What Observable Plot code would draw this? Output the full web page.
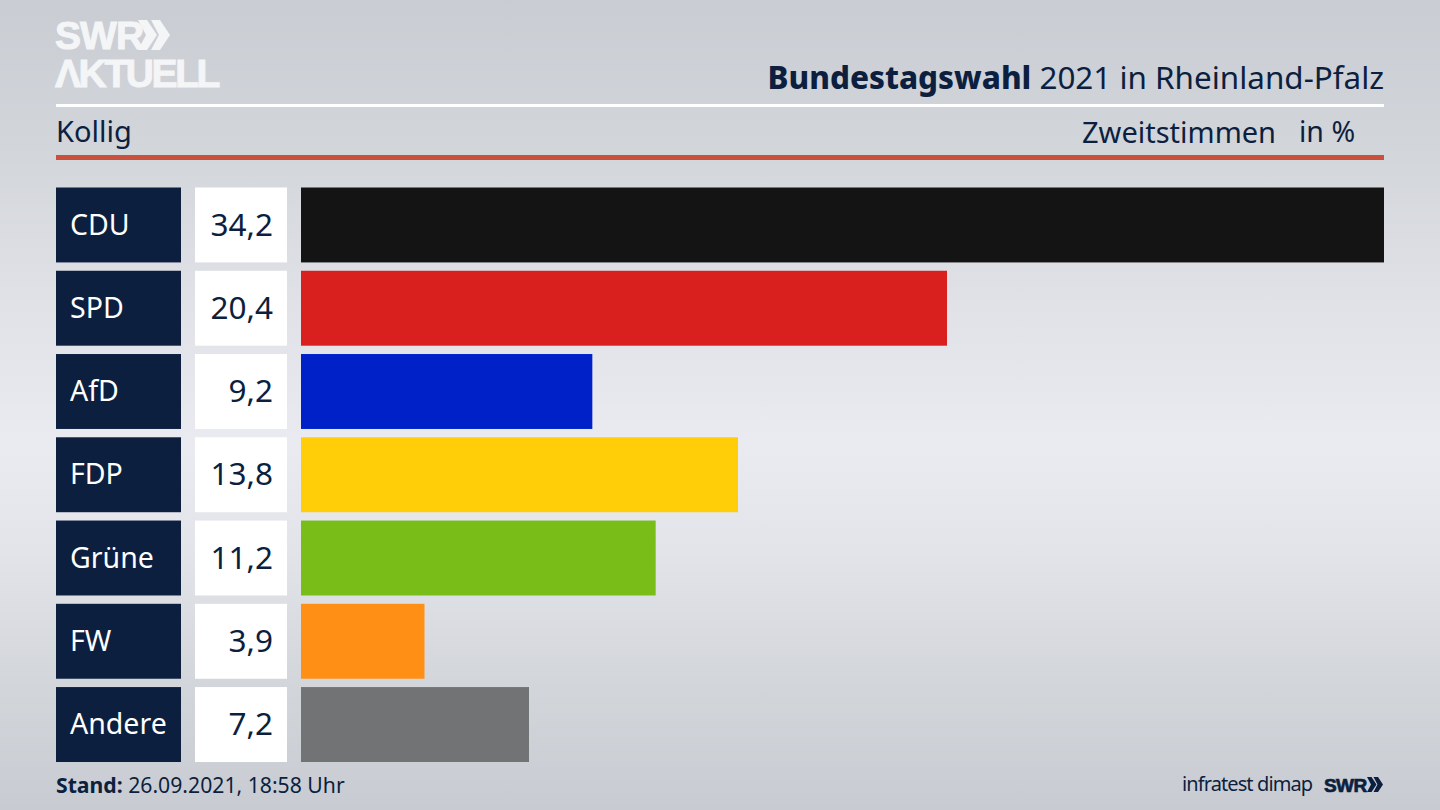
<!DOCTYPE html>
<html lang="de">
<head>
<meta charset="utf-8">
<script src="https://cdn.jsdelivr.net/npm/d3@7"></script>
<script src="https://cdn.jsdelivr.net/npm/@observablehq/plot@0.6"></script>
<style>
html,body{margin:0;padding:0;width:1440px;height:810px;overflow:hidden}
body{position:relative;font-family:"Noto Sans",sans-serif;color:#0c1f3f;
background:linear-gradient(180deg,#c9cdd3 0%,#d2d5da 18%,#e0e2e7 38%,#eaebf0 55%,#e2e4e9 68%,#d2d5da 85%,#c8ccd2 100%)}
.t{position:absolute;white-space:nowrap;line-height:1}
.rule{position:absolute;left:56px;width:1328px}
.chart{position:absolute;top:187px}
.chart svg{display:block;background:transparent;overflow:visible}
.logo{font-family:"Liberation Sans",sans-serif;font-weight:700;color:#f4f5f7}
</style>
</head>
<body>
<div class="t logo" style="left:55px;top:17px;font-size:39px;line-height:37.5px;-webkit-text-stroke:1px #f4f5f7"><span style="letter-spacing:-.9px">SWR</span><br><span style="letter-spacing:-2.4px">ΛKTUELL</span></div>
<svg style="position:absolute;left:138px;top:20px" width="32" height="30" viewBox="0 0 32 30"><path fill="#f4f5f7" d="M0 0H9L19 15L9 30H0L8 15ZM13 0H22L32 15L22 30H13L21 15Z"/></svg>

<div class="t" style="right:56px;top:61px;font-size:31.4px"><b style="font-weight:800">Bundestagswahl</b> 2021 in Rheinland-Pfalz</div>
<div class="rule" style="top:104px;height:3px;background:#fff"></div>
<div class="t" style="left:56px;top:116px;font-size:29px">Kollig</div>
<div class="t" style="left:1082px;top:117px;font-size:29px">Zweitstimmen</div>
<div class="t" style="left:1299px;top:117px;font-size:28.5px">in %</div>
<div class="rule" style="top:155px;height:5px;background:#c8503c"></div>

<div class="chart" id="labels" style="left:56px"></div>
<div class="chart" id="values" style="left:195px"></div>
<div class="chart" id="bars" style="left:301px"></div>

<div class="t" style="left:56px;top:774px;font-size:21.2px"><b>Stand:</b> 26.09.2021, 18:58 Uhr</div>
<div class="t" style="left:1182px;top:774px;font-size:20px;letter-spacing:-.9px">infratest dimap</div>
<div class="t logo" style="left:1324px;top:776px;font-size:19px;color:#0c1f3f;-webkit-text-stroke:.7px #0c1f3f;letter-spacing:-.6px">SWR</div>
<svg style="position:absolute;left:1366px;top:777px" width="18" height="15" viewBox="0 0 32 30"><path fill="#0c1f3f" d="M0 0H9L19 15L9 30H0L8 15ZM13 0H22L32 15L22 30H13L21 15Z"/></svg>

<script>
const parties = ["CDU","SPD","AfD","FDP","Grüne","FW","Andere"];
const shares = [34.2,20.4,9.2,13.8,11.2,3.9,7.2];
const partyColors = ["#141414","#da1f1f","#0020c8","#ffce08","#78bd18","#ff9015","#727375"];
const shareLabels = ["34,2","20,4","9,2","13,8","11,2","3,9","7,2"];
const rows = parties.map((party,i)=>({party,share:shares[i],color:partyColors[i],label:shareLabels[i]}));
const H = 575;
const yScale = {domain:parties,paddingInner:0.1,paddingOuter:0,align:0,round:false,axis:null};
const font = '"Noto Sans",sans-serif';
const base = {height:H,marginTop:0.5,marginBottom:0,marginLeft:0,marginRight:0,y:yScale,
  style:{background:"transparent",fontFamily:font}};

document.getElementById("labels").append(Plot.plot({...base,width:125,x:{domain:[0,1],axis:null},marks:[
  Plot.barX(rows,{x1:()=>0,x2:()=>1,y:"party",fill:"#0c1f3f"}),
  Plot.text(rows,{x:()=>0,y:"party",text:"party",textAnchor:"start",dx:13.5,fill:"#fff",fontSize:28.5})
]}));
document.getElementById("values").append(Plot.plot({...base,width:92,x:{domain:[0,1],axis:null},marks:[
  Plot.barX(rows,{x1:()=>0,x2:()=>1,y:"party",fill:"#fff"}),
  Plot.text(rows,{x:()=>1,y:"party",text:"label",textAnchor:"end",dx:-14.5,fill:"#0c1f3f",fontSize:31.5})
]}));
document.getElementById("bars").append(Plot.plot({...base,width:1083,x:{domain:[0,34.2],axis:null},marks:[
  Plot.barX(rows,{x:"share",y:"party",fill:"color"})
]}));
</script>
</body>
</html>
